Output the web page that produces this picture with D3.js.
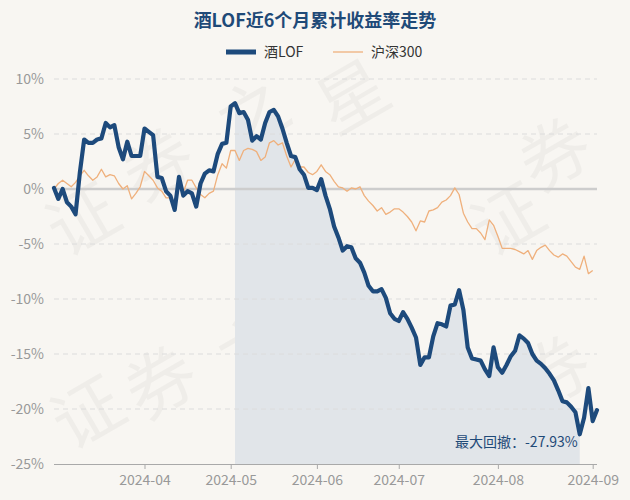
<!DOCTYPE html>
<html>
<head>
<meta charset="utf-8">
<script src="https://cdn.jsdelivr.net/npm/d3@7/dist/d3.min.js"></script>
<style>
  html, body { margin: 0; padding: 0; background: #f8f6f2; }
  svg { display: block; }
  text { font-family: "Noto Sans CJK SC", "Noto Sans", sans-serif; }
</style>
</head>
<body>
<svg id="chart" width="630" height="500"></svg>
<script>
// ---------- data ----------
const title = "酒LOF近6个月累计收益率走势";
const seriesNames = ["酒LOF", "沪深300"];
const startDate = "2024-03-01";
const endDate = "2024-09-03";
const holidays = ["2024-04-04", "2024-04-05", "2024-05-01", "2024-05-02", "2024-05-03", "2024-06-10"];
const tickMonths = ["2024-04", "2024-05", "2024-06", "2024-07", "2024-08", "2024-09"];
const yTicks = [10, 5, 0, -5, -10, -15, -20, -25];
const drawdownLabel = "最大回撤：-27.93%";
const watermarkChars = ["证", "券", "之", "星", "证", "券", "之", "星", "证", "券", "证", "券"];

// cumulative return (%) of 酒LOF, one per trading day
const fundValues = [
  0.1, -0.9, 0.0, -1.2, -1.6, -2.3, 1.5, 4.5, 4.2, 4.2,
  4.5, 4.6, 6.0, 5.6, 5.8, 3.8, 2.7, 4.3, 3.0, 3.0,
  3.0, 5.5, 5.2, 4.9, 1.1, 1.0, -0.2, -0.6, -1.9, 1.1,
  -0.6, -0.2, -0.4, -1.6, 0.5, 1.4, 1.7, 1.6, 3.2, 4.1,
  4.2, 7.5, 7.8, 6.9, 7.0, 6.3, 4.4, 4.8, 4.5, 6.0,
  7.0, 7.2, 6.6, 5.5, 4.2, 3.0, 2.9, 1.8, 1.3, 0.1,
  0.1, -0.1, 0.9, -0.6, -1.8, -3.4, -4.4, -5.6, -5.2, -5.3,
  -6.3, -6.7, -7.6, -8.8, -9.3, -9.3, -9.1, -9.9, -11.3, -11.8,
  -12.0, -11.2, -11.8, -12.6, -13.5, -16.0, -15.3, -15.3, -13.4, -12.2,
  -12.3, -12.5, -10.6, -10.5, -9.2, -11.0, -14.4, -15.4, -15.5, -15.6,
  -16.4, -17.0, -14.4, -16.2, -16.7, -16.0, -15.2, -14.7, -13.3, -13.6,
  -14.0, -15.0, -15.6, -15.9, -16.3, -16.8, -17.4, -18.3, -19.3, -19.4,
  -19.8, -20.3, -22.3, -20.8, -18.1, -21.1, -20.1
];
// cumulative return (%) of 沪深300
const indexValues = [
  0.0, 0.5, 0.8, 0.5, 0.2, 0.6, 1.2, 1.7, 1.2, 0.8,
  1.1, 1.8, 1.1, 1.3, 1.2, 0.5, 0.0, 0.3, -0.9, -0.4,
  0.2, 1.6, 1.2, 0.8, 0.1, -0.2, -0.8, -0.8, -1.7, 0.2,
  -0.3, 0.8, 0.8, 0.1, -0.5, -0.8, -0.4, -0.2, 1.3, 2.3,
  1.9, 3.5, 3.5, 2.6, 3.5, 3.7, 3.6, 3.4, 2.6, 2.9,
  4.2, 4.4, 4.0, 4.2, 3.0, 2.0, 2.7, 2.0, 2.0, 1.5,
  1.3, 1.6, 2.2, 1.6, 1.3, 0.7, 0.2, 0.1, -0.2, 0.1,
  0.0, 0.2, -0.6, -1.1, -1.5, -2.0, -1.7, -2.3, -2.1, -1.8,
  -1.8, -2.1, -2.5, -3.0, -3.8, -2.9, -3.0, -2.0, -1.9, -1.7,
  -1.2, -1.0, -0.6, 0.1, -0.5, -2.2, -3.0, -3.6, -3.6, -4.0,
  -4.6, -2.8, -3.3, -4.3, -5.4, -5.4, -5.4, -5.5, -5.7, -5.9,
  -5.6, -6.4, -5.6, -5.3, -5.1, -5.6, -6.0, -6.2, -5.9, -6.1,
  -6.6, -7.1, -7.3, -6.1, -7.7, -7.4
];

// ---------- trading calendar (categories) ----------
const fmt = d3.timeFormat("%Y-%m-%d");
const parse = d3.timeParse("%Y-%m-%d");
const dates = d3.timeDay.range(parse(startDate), d3.timeDay.offset(parse(endDate), 1))
  .filter(d => d.getDay() !== 0 && d.getDay() !== 6 && !holidays.includes(fmt(d)))
  .map(fmt);

// ---------- layout ----------
const W = 630, H = 500;
const margin = { left: 54, right: 33, top: 79, bottom: 36 };
const svg = d3.select("#chart");
const colors = { bg: "#f8f6f2", fund: "#1d4a7c", index: "#efb07c", grid: "#dcdcdc", zero: "#cdcdcd", axis: "#a9a9a9", label: "#999999", title: "#1f4a78", shade: "#e1e5e9" };

svg.append("rect").attr("width", W).attr("height", H).attr("fill", colors.bg);

const x = d3.scalePoint().domain(dates).range([margin.left, W - margin.right]);
const y = d3.scaleLinear().domain([-25, 10]).range([H - margin.bottom, margin.top]);

// watermark (faint, each glyph kept inside the canvas)
const wmPos = [[80, 215], [155, 160], [250, 110], [350, 92],
               [85, 408], [158, 378], [250, 345], [345, 335],
               [505, 215], [552, 150], [505, 408], [552, 368]];
svg.append("g").attr("fill", "rgba(0,0,0,0.035)").attr("font-size", 70)
  .selectAll("text").data(watermarkChars).join("text")
  .attr("text-anchor", "middle").attr("dominant-baseline", "central")
  .attr("transform", (c, i) => `translate(${wmPos[i][0]},${wmPos[i][1]}) rotate(-30)`)
  .text(c => c);

// max drawdown range from the data
let peakIdx = 0, best = { dd: 0, s: 0, e: 0 };
fundValues.forEach((v, i) => {
  if (v > fundValues[peakIdx]) peakIdx = i;
  const dd = (1 + v / 100) / (1 + fundValues[peakIdx] / 100) - 1;
  if (dd < best.dd) best = { dd, s: peakIdx, e: i };
});

const fundData = fundValues.map((v, i) => ({ d: dates[i], v, i }));
const indexData = dates.map((d, i) => ({ d, v: indexValues[i], i }));

// shaded drawdown area
svg.append("path")
  .datum(fundData.filter(p => p.i >= best.s && p.i <= best.e))
  .attr("fill", colors.shade)
  .attr("d", d3.area().x(p => x(p.d)).y0(y(-25)).y1(p => y(p.v)));

// grid
svg.append("g").selectAll("line").data(yTicks.filter(t => t !== 0 && t !== -25)).join("line")
  .attr("x1", margin.left).attr("x2", W - margin.right)
  .attr("y1", t => y(t)).attr("y2", t => y(t))
  .attr("stroke", colors.grid).attr("stroke-width", 1).attr("stroke-dasharray", "5,4");
svg.append("line")
  .attr("x1", margin.left).attr("x2", W - margin.right)
  .attr("y1", y(0)).attr("y2", y(0))
  .attr("stroke", colors.zero).attr("stroke-width", 2.5);

// y axis labels
const yAxis = svg.append("g").attr("transform", `translate(${margin.left - 10},0)`)
  .call(d3.axisLeft(y).tickValues(yTicks).tickFormat(t => t + "%").tickSize(0).tickPadding(0));
yAxis.select(".domain").remove();
yAxis.selectAll("text").attr("fill", colors.label).attr("font-size", 14).attr("dy", "0.35em")
  .style("font-family", '"Noto Sans CJK SC", sans-serif');

// x axis
const tickDates = tickMonths.map(m => dates.find(d => d.startsWith(m)));
const xAxis = svg.append("g").attr("transform", `translate(0,${y(-25)})`)
  .call(d3.axisBottom(x).tickValues(tickDates).tickFormat(d => d.slice(0, 7)).tickSize(5).tickSizeOuter(0).tickPadding(6));
xAxis.select(".domain").attr("stroke", colors.axis).attr("d", `M${margin.left},0.5H${W - margin.right}`);
xAxis.selectAll(".tick line").attr("stroke", colors.axis);
xAxis.selectAll("text").attr("fill", colors.label).attr("font-size", 14)
  .style("font-family", '"Noto Sans CJK SC", sans-serif');

// lines
svg.append("path").datum(indexData)
  .attr("fill", "none").attr("stroke", colors.index).attr("stroke-width", 1.3)
  .attr("stroke-linejoin", "round")
  .attr("d", d3.line().defined(p => p.v !== undefined && p.v !== null).x(p => x(p.d)).y(p => y(p.v)));
svg.append("path").datum(fundData)
  .attr("fill", "none").attr("stroke", colors.fund).attr("stroke-width", 4.2)
  .attr("stroke-linejoin", "round").attr("stroke-linecap", "round")
  .attr("d", d3.line().x(p => x(p.d)).y(p => y(p.v)));

// drawdown label
svg.append("text")
  .attr("x", x(dates[best.e]) - 2).attr("y", y(-25) - 17)
  .attr("text-anchor", "end").attr("fill", colors.title).attr("font-size", 14)
  .text(drawdownLabel);

// title
svg.append("text").attr("x", W / 2).attr("y", 27).attr("text-anchor", "middle")
  .attr("fill", colors.title).attr("font-size", 18).attr("font-weight", 700).text(title);

// legend
const lg = svg.append("g");
lg.append("line").attr("x1", 226).attr("x2", 256).attr("y1", 52).attr("y2", 52)
  .attr("stroke", colors.fund).attr("stroke-width", 5);
lg.append("text").attr("x", 264).attr("y", 52).attr("dy", "0.35em").attr("font-size", 14)
  .attr("fill", "#333").text(seriesNames[0]);
lg.append("line").attr("x1", 333).attr("x2", 363).attr("y1", 52).attr("y2", 52)
  .attr("stroke", colors.index).attr("stroke-width", 1.3);
lg.append("text").attr("x", 371).attr("y", 52).attr("dy", "0.35em").attr("font-size", 14)
  .attr("fill", "#333").text(seriesNames[1]);
</script>
</body>
</html>
